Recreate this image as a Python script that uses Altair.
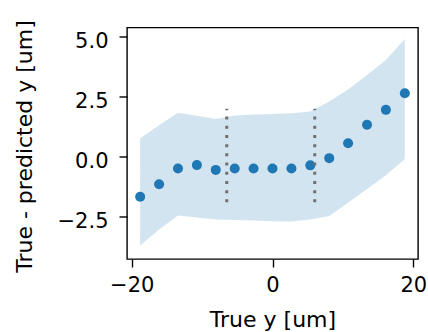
import altair as alt
import pandas as pd

# ---- data ----
x_true = [-18.8, -16.11, -13.43, -10.74, -8.06, -5.37, -2.69, 0.0,
          2.69, 5.37, 8.06, 10.74, 13.43, 16.11, 18.8]
resid_mean = [-1.67, -1.15, -0.49, -0.35, -0.55, -0.49, -0.49, -0.49,
              -0.49, -0.36, -0.06, 0.56, 1.33, 1.95, 2.64]
band_upper = [0.77, 1.31, 1.83, 1.70, 1.57, 1.72, 1.76, 1.78,
              1.81, 1.88, 2.30, 2.80, 3.40, 4.03, 4.90]
band_lower = [-3.70, -3.03, -2.45, -2.53, -2.62, -2.64, -2.66, -2.69,
              -2.70, -2.62, -2.47, -1.92, -1.35, -0.77, -0.10]
vline_x = [-6.5, 6.0]
vline_y0 = [-1.9, -1.9]
vline_y1 = [2.0, 2.0]
x_ticks = [-20, 0, 20]
y_ticks = [-2.5, 0.0, 2.5, 5.0]

df = pd.DataFrame({"x": x_true, "m": resid_mean, "lo": band_lower, "hi": band_upper})
vl = pd.DataFrame({"x": vline_x, "y0": vline_y0, "y1": vline_y1})

xs = alt.Scale(domain=[-20.67, 20.67], nice=False, zero=False)
ys = alt.Scale(domain=[-4.26, 5.38], nice=False, zero=False)

xaxis = alt.Axis(values=x_ticks, format="d", title="True y [um]",
                 labelPadding=7, titleY=67, titleBaseline="alphabetic")
yaxis = alt.Axis(values=y_ticks, format=".1f", title="True - predicted y [um]",
                 labelPadding=11, labelOffset=5,
                 titleX=-95.5, titleY=118.5, titleAngle=270,
                 titleAlign="center", titleBaseline="alphabetic")

band = alt.Chart(df).mark_area(color="#1f77b4", opacity=0.2).encode(
    x=alt.X("x:Q", scale=xs, axis=xaxis),
    y=alt.Y("lo:Q", scale=ys, axis=yaxis),
    y2="hi:Q",
)

pts = alt.Chart(df).mark_circle(color="#1f77b4", opacity=1, size=100).encode(
    x=alt.X("x:Q", scale=xs),
    y=alt.Y("m:Q", scale=ys),
)

rules = alt.Chart(vl).mark_rule(color="#707070", strokeWidth=3,
                                strokeDash=[3, 6.2]).encode(
    x=alt.X("x:Q", scale=xs),
    y=alt.Y("y0:Q", scale=ys),
    y2="y1:Q",
)

chart = alt.layer(band, pts, rules).properties(
    width=291, height=231.5,
    autosize=alt.AutoSizeParams(type="none"),
    padding={"left": 127, "top": 27.5, "right": 10, "bottom": 73},
    background="white",
).configure_view(
    stroke="black", strokeWidth=1.4
).configure_axis(
    domain=False, grid=False,
    labelFont="DejaVu Sans", labelFontSize=21, labelColor="black",
    titleFont="DejaVu Sans", titleFontSize=22, titleFontWeight="normal",
    titleColor="black",
    tickColor="black", tickSize=8, tickWidth=1.4,
)

chart.save("out.html", embed_options={"renderer": "svg", "actions": False})
